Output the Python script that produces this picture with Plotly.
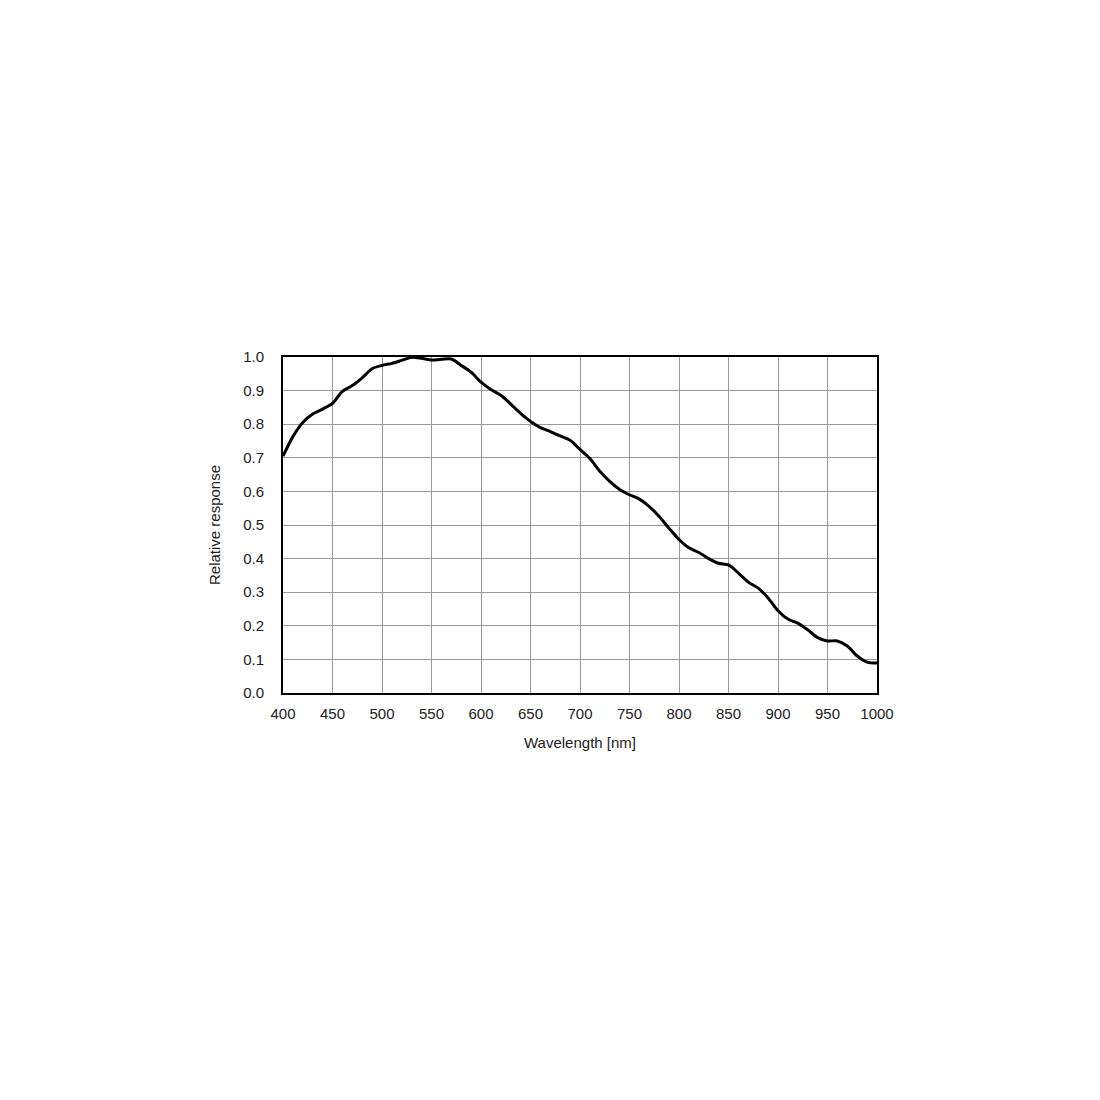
import plotly.graph_objects as go

wavelength = [400, 410, 420, 430, 440, 450, 460, 470, 480, 490,
              500, 510, 520, 530, 540, 550, 560, 570, 580, 590,
              600, 610, 620, 630, 640, 650, 660, 670, 680, 690,
              700, 710, 720, 730, 740, 750, 760, 770, 780, 790,
              800, 810, 820, 830, 840, 850, 860, 870, 880, 890,
              900, 910, 920, 930, 940, 950, 960, 970, 980, 990, 1000]
response = [0.705, 0.763, 0.805, 0.830, 0.845, 0.862, 0.898, 0.915, 0.938, 0.965,
            0.975, 0.981, 0.990, 0.999, 0.996, 0.991, 0.993, 0.994, 0.975, 0.955,
            0.925, 0.903, 0.886, 0.860, 0.832, 0.808, 0.790, 0.778, 0.765, 0.752,
            0.725, 0.698, 0.660, 0.630, 0.606, 0.590, 0.577, 0.555, 0.525, 0.490,
            0.457, 0.432, 0.418, 0.400, 0.386, 0.381, 0.357, 0.330, 0.312, 0.283,
            0.245, 0.220, 0.208, 0.188, 0.165, 0.155, 0.155, 0.140, 0.110, 0.092, 0.089]

x_ticks = [400, 450, 500, 550, 600, 650, 700, 750, 800, 850, 900, 950, 1000]
y_ticks = [0.0, 0.1, 0.2, 0.3, 0.4, 0.5, 0.6, 0.7, 0.8, 0.9, 1.0]

fig = go.Figure()
fig.add_trace(go.Scatter(
    x=wavelength, y=response, mode="lines",
    line=dict(color="black", width=3, shape="spline", smoothing=0.8),
    showlegend=False, cliponaxis=True,
))

font = dict(family="Arial, Liberation Sans, sans-serif", size=15, color="#222")

fig.update_layout(
    width=1100, height=1100,
    paper_bgcolor="white", plot_bgcolor="white",
    margin=dict(l=275, r=231, t=349, b=415),
    font=font,
    xaxis=dict(
        range=[400, 1000], tickvals=x_ticks, ticktext=[str(v) for v in x_ticks],
        showgrid=True, gridcolor="#999", gridwidth=1,
        showline=True, linecolor="black", linewidth=2, mirror=True,
        zeroline=False, ticks="", ticklabelstandoff=6,
        title=dict(text="Wavelength [nm]", standoff=16, font=font),
    ),
    yaxis=dict(
        range=[0, 1.0], tickvals=y_ticks, ticktext=[f"{v:.1f}" for v in y_ticks],
        showgrid=True, gridcolor="#999", gridwidth=1,
        showline=True, linecolor="black", linewidth=2, mirror=True,
        zeroline=False, ticks="", ticklabelstandoff=14,
        title=dict(text="Relative response", standoff=19, font=font),
    ),
)

fig.write_html("out.html")
